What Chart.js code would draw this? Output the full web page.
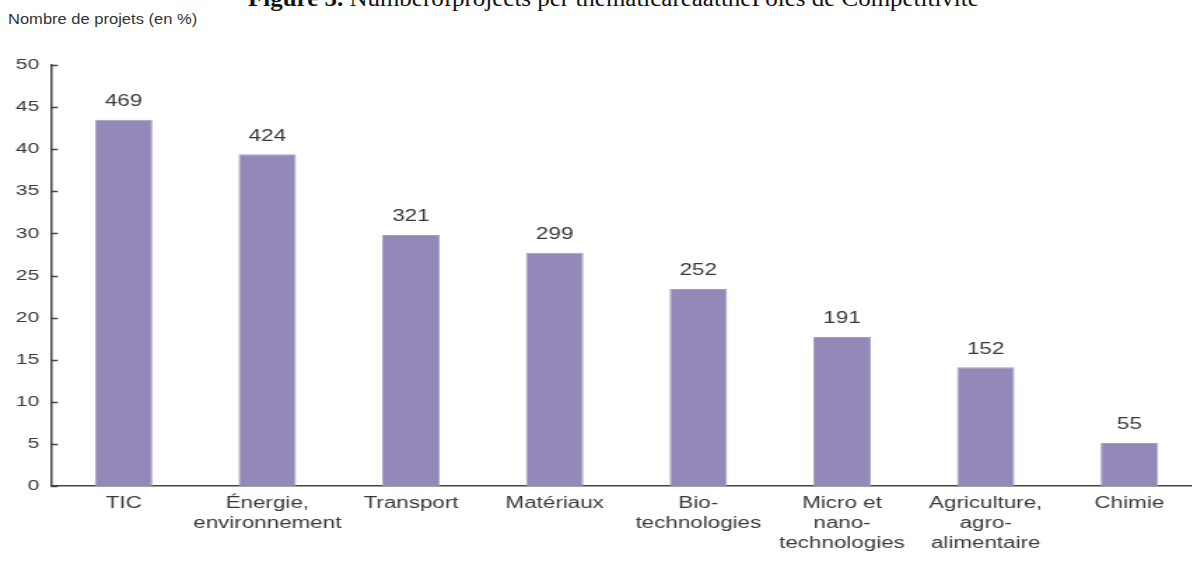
<!DOCTYPE html>
<html>
<head>
<meta charset="utf-8">
<script src="https://cdn.jsdelivr.net/npm/chart.js@4.4.1/dist/chart.umd.min.js"></script>
<style>
  body { margin: 0; background: #fff; overflow: hidden; width: 1192px; height: 561px; position: relative; }
  #title { position: absolute; top: -15px; left: 248px; font-family: "Liberation Serif", serif; font-size: 24px; color: #111; white-space: nowrap; transform: scaleX(1.04); transform-origin: 0 0; }
  #ytitle { position: absolute; top: 11px; left: 8px; font-family: "Liberation Sans", Arial, sans-serif; font-size: 14px; color: #333; white-space: nowrap; transform: scaleX(1.18); transform-origin: 0 0; }
  /* the source figure is stretched horizontally, so the chart is drawn narrow and widened */
  #wrap { position: absolute; top: 0; left: 0; width: 858px; height: 561px; transform: scaleX(1.4); transform-origin: 0 0; }
</style>
</head>
<body>
<div id="title"><b>Figure 5.</b> Numberofprojects per thematicareaatthePôles de Compétitivité</div>
<div id="ytitle">Nombre de projets (en %)</div>
<div id="wrap"><canvas id="chart"></canvas></div>
<script>
// categories, shares (%) and project counts
const categories = [
  ["TIC"],
  ["Énergie,", "environnement"],
  ["Transport"],
  ["Matériaux"],
  ["Bio-", "technologies"],
  ["Micro et", "nano-", "technologies"],
  ["Agriculture,", "agro-", "alimentaire"],
  ["Chimie"]
];
const shares = [43.5, 39.4, 29.8, 27.7, 23.4, 17.7, 14.1, 5.1];
const counts = [469, 424, 321, 299, 252, 191, 152, 55];
const yTicks = [0, 5, 10, 15, 20, 25, 30, 35, 40, 45, 50];

const textColor = "#383838";
const font = "Liberation Sans";

// value labels above the bars + inside tick marks on the y axis
const extras = {
  id: "extras",
  afterDatasetsDraw(chart) {
    const ctx = chart.ctx;
    const meta = chart.getDatasetMeta(0);
    ctx.save();
    ctx.fillStyle = textColor;
    ctx.font = "16px " + font;
    ctx.textAlign = "center";
    ctx.textBaseline = "middle";
    meta.data.forEach((bar, i) => {
      ctx.fillText(counts[i], bar.x, bar.y - 18);
    });
    const y = chart.scales.y;
    ctx.strokeStyle = "#444";
    ctx.lineWidth = 1.5;
    yTicks.forEach(v => {
      const py = Math.round(y.getPixelForValue(v)) + 0.5;
      ctx.beginPath();
      ctx.moveTo(y.right, py);
      ctx.lineTo(y.right + 4.3, py);
      ctx.stroke();
    });
    ctx.restore();
  }
};

const ctx = document.getElementById("chart").getContext("2d");
new Chart(ctx, {
  type: "bar",
  data: {
    labels: categories,
    datasets: [{
      data: shares,
      backgroundColor: "#9488b8",
      borderColor: "#a69cc6",
      borderWidth: 1,
      categoryPercentage: 1,
      barPercentage: 0.4
    }]
  },
  options: {
    responsive: true,
    maintainAspectRatio: false,
    animation: false,
    layout: { padding: { top: 65, left: 0, right: 0, bottom: 0 } },
    plugins: { legend: { display: false }, tooltip: { enabled: false } },
    scales: {
      x: {
        grid: { display: false, drawTicks: false },
        border: { color: "#444", width: 1.5 },
        ticks: { color: textColor, font: { family: font, size: 16, lineHeight: 1.27 }, padding: 7, maxRotation: 0, autoSkip: false },
        afterFit(scale) { scale.height = 75; }
      },
      y: {
        min: 0,
        max: 50,
        grid: { display: false, drawTicks: false },
        border: { color: "#444", width: 1.5 },
        ticks: { stepSize: 5, color: textColor, font: { family: font, size: 15 }, padding: 9 },
        afterFit(scale) { scale.width = 37; }
      }
    }
  },
  plugins: [extras]
});
</script>
</body>
</html>
